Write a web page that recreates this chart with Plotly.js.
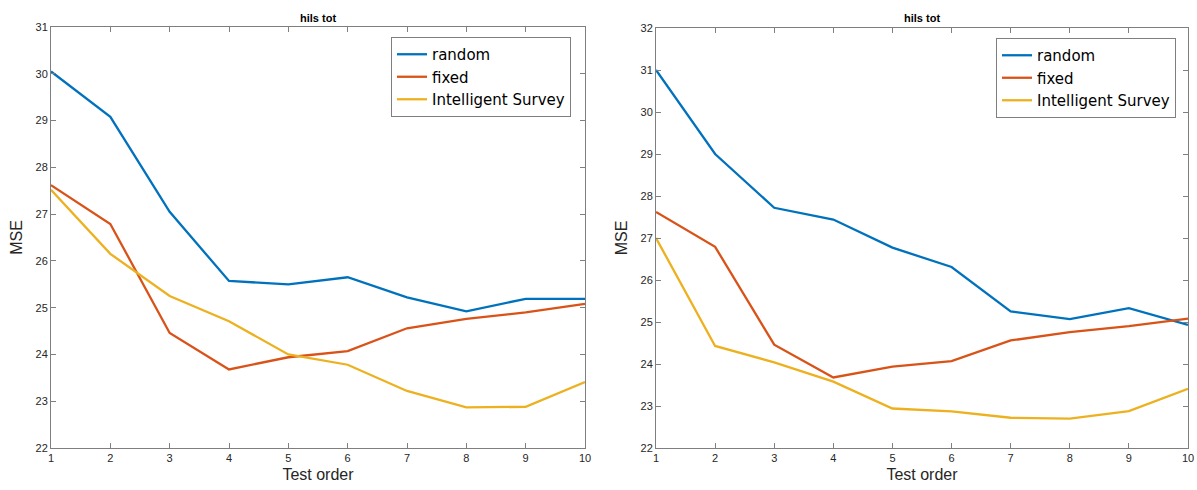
<!DOCTYPE html>
<html>
<head>
<meta charset="utf-8">
<script src="https://cdn.plot.ly/plotly-3.0.1.min.js"></script>
<style>html,body{margin:0;padding:0;background:#fff}#chart{width:1197px;height:490px}</style>
</head>
<body>
<div id="chart"></div>
<script>
const testOrder = [1, 2, 3, 4, 5, 6, 7, 8, 9, 10];
const seriesNames = ["random", "fixed", "Intelligent Survey"];
const leftRandom = [30.05, 29.08, 27.05, 25.57, 25.50, 25.65, 25.22, 24.92, 25.19, 25.19];
const leftFixed = [27.62, 26.79, 24.46, 23.68, 23.94, 24.07, 24.56, 24.76, 24.90, 25.08];
const leftIntelligent = [27.52, 26.15, 25.25, 24.71, 24.00, 23.78, 23.22, 22.87, 22.88, 23.41];
const rightRandom = [31.00, 29.00, 27.72, 27.44, 26.77, 26.31, 25.25, 25.07, 25.33, 24.93];
const rightFixed = [27.62, 26.79, 24.46, 23.68, 23.94, 24.07, 24.56, 24.76, 24.90, 25.08];
const rightIntelligent = [27.00, 24.43, 24.04, 23.58, 22.94, 22.87, 22.72, 22.70, 22.88, 23.41];
const chartTitle = "hils tot";
const xLabel = "Test order";
const yLabel = "MSE";

const colors = ["#0072BD", "#D95319", "#EDB120"];
const font = "Liberation Sans, Arial, Helvetica, sans-serif";

function mk(y, i, xa, ya, lg) {
  return {x: testOrder, y: y, name: seriesNames[i], type: "scatter", mode: "lines",
    line: {color: colors[i], width: 2.3}, xaxis: xa, yaxis: ya, legend: lg, hoverinfo: "skip"};
}
const data = [
  mk(leftRandom, 0, "x", "y", "legend"),
  mk(leftFixed, 1, "x", "y", "legend"),
  mk(leftIntelligent, 2, "x", "y", "legend"),
  mk(rightRandom, 0, "x2", "y2", "legend2"),
  mk(rightFixed, 1, "x2", "y2", "legend2"),
  mk(rightIntelligent, 2, "x2", "y2", "legend2")
];

const W = 1197, H = 490;
function xax(l, r, anchor) {
  return {domain: [l / W, r / W], anchor: anchor, range: [1, 10], tickvals: testOrder,
    showline: true, linecolor: "#7f7f7f", linewidth: 1, mirror: "ticks", ticks: "inside",
    ticklen: 5, tickcolor: "#7f7f7f", showgrid: false, zeroline: false,
    tickfont: {family: font, size: 11, color: "#262626"},
    title: {text: xLabel, font: {family: font, size: 16, color: "#262626"}, standoff: 5}};
}
function yax(t, b, lo, hi, anchor) {
  const tv = []; for (let v = lo; v <= hi; v++) tv.push(v);
  return {domain: [1 - b / H, 1 - t / H], anchor: anchor, range: [lo, hi], tickvals: tv,
    showline: true, linecolor: "#7f7f7f", linewidth: 1, mirror: "ticks", ticks: "inside",
    ticklen: 5, tickcolor: "#7f7f7f", showgrid: false, zeroline: false,
    tickfont: {family: font, size: 11, color: "#262626"},
    title: {text: yLabel, font: {family: font, size: 16, color: "#262626"}, standoff: 8}};
}
function leg(l, t) {
  return {x: l / W, y: 1 - t / H, xanchor: "left", yanchor: "top",
    bgcolor: "#ffffff", bordercolor: "#7f7f7f", borderwidth: 1,
    font: {family: "DejaVu Sans, sans-serif", size: 15, color: "#000"}, tracegroupgap: 0, itemwidth: 30};
}
const layout = {
  width: W, height: H, margin: {l: 0, r: 0, t: 0, b: 0},
  paper_bgcolor: "#fff", plot_bgcolor: "#fff", showlegend: true,
  xaxis: xax(51, 585, "y"),
  yaxis: yax(27, 448, 22, 31, "x"),
  xaxis2: xax(656, 1188, "y2"),
  yaxis2: yax(28, 448, 22, 32, "x2"),
  legend: leg(391, 37),
  legend2: leg(996, 38),
  annotations: [
    {text: "<b>" + chartTitle + "</b>", xref: "paper", yref: "paper", x: 318 / W, y: 1 - 18 / H,
     showarrow: false, font: {family: font, size: 11, color: "#000"}, xanchor: "center", yanchor: "middle"},
    {text: "<b>" + chartTitle + "</b>", xref: "paper", yref: "paper", x: 922 / W, y: 1 - 18 / H,
     showarrow: false, font: {family: font, size: 11, color: "#000"}, xanchor: "center", yanchor: "middle"}
  ]
};
Plotly.newPlot("chart", data, layout, {displayModeBar: false, staticPlot: true});
</script>
</body>
</html>
